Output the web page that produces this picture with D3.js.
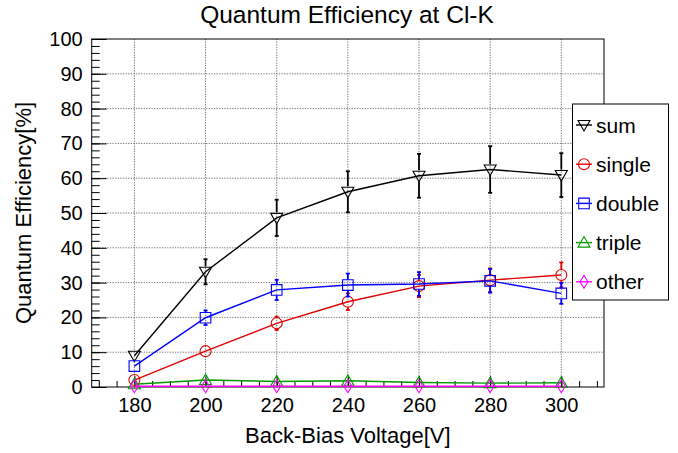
<!DOCTYPE html>
<html>
<head>
<meta charset="UTF-8">
<title>Quantum Efficiency at Cl-K</title>
<script src="https://cdn.jsdelivr.net/npm/d3@7"></script>
<style type="text/css">
	body { margin:0; background:white; }
	text { font-family: "Liberation Sans", Arial, Helvetica, sans-serif; fill:black; }
</style>
</head>
<body>
<script type="text/javascript">

// data
var voltages = [180, 200, 220, 240, 260, 280, 300];
var sumQE     = [9.0, 33.1, 48.6, 56.1, 60.7, 62.5, 60.9];
var sumErr    = [1.2, 3.6, 5.2, 5.9, 6.3, 6.7, 6.3];
var singleQE  = [2.0, 10.3, 18.3, 24.5, 29.0, 30.7, 32.2];
var singleErr = [0.4, 0.9, 1.9, 2.4, 3.2, 3.4, 3.6];
var doubleQE  = [6.0, 19.9, 27.9, 29.3, 29.6, 30.5, 26.9];
var doubleErr = [0.8, 2.1, 2.9, 3.3, 3.4, 3.4, 3.0];
var tripleQE  = [0.8, 2.0, 1.6, 1.8, 1.3, 1.1, 1.2];
var tripleErr = [0.2, 0.4, 0.3, 0.3, 0.3, 0.2, 0.3];
var otherQE   = [0.2, 0.2, 0.2, 0.2, 0.2, 0.2, 0.2];
var otherErr  = [0, 0, 0, 0, 0, 0, 0];
var seriesNames = ['sum', 'single', 'double', 'triple', 'other'];

var large = 678, haut = 453;
var cadreG = 91.7, cadreD = 604, cadreH = 39, cadreB = 387;

var x = d3.scaleLinear().domain([168, 312]).range([cadreG, cadreD]);
var y = d3.scaleLinear().domain([0, 100]).range([cadreB, cadreH]);

var series = [
	{name:seriesNames[0], v:sumQE,    e:sumErr,    col:'#000000', mk:'tdown'},
	{name:seriesNames[1], v:singleQE, e:singleErr, col:'#e00000', mk:'circle'},
	{name:seriesNames[2], v:doubleQE, e:doubleErr, col:'#0000ff', mk:'square'},
	{name:seriesNames[3], v:tripleQE, e:tripleErr, col:'#009900', mk:'tup'},
	{name:seriesNames[4], v:otherQE,  e:otherErr,  col:'#ff00ff', mk:'diamond'}
];

// marker outlines, centred on 0,0
function markerPath(t) {
	if (t == 'tdown') return 'M-6,-4.5L6,-4.5L0,6Z';
	if (t == 'tup') return 'M-6,4.5L6,4.5L0,-6Z';
	if (t == 'square') return 'M-5.3,-5.3H5.3V5.3H-5.3Z';
	if (t == 'diamond') return 'M0,-6.5L4,0L0,6.5L-4,0Z';
	return d3.arc()({innerRadius:0, outerRadius:5.5, startAngle:0, endAngle:2*Math.PI});
}

var svg = d3.select('body').append('svg')
	.attr('width', large)
	.attr('height', haut);

svg.append('rect').attr('width', large).attr('height', haut).attr('fill', 'white');

// grid
var grid = svg.append('g');
grid.selectAll('.gx').data(d3.range(180, 301, 20)).enter().append('line')
	.attr('x1', function(d){ return x(d); }).attr('x2', function(d){ return x(d); })
	.attr('y1', cadreH).attr('y2', cadreB);
grid.selectAll('.gy').data(d3.range(10, 100, 10)).enter().append('line')
	.attr('y1', function(d){ return y(d); }).attr('y2', function(d){ return y(d); })
	.attr('x1', cadreG).attr('x2', cadreD);
grid.selectAll('line')
	.attr('stroke', '#777')
	.attr('stroke-width', 1)
	.attr('stroke-dasharray', '1.3,1.3');

// axes
var yAxis = d3.axisLeft(y).tickValues(d3.range(0, 101, 10)).tickSize(-15).tickSizeOuter(0).tickPadding(9);
var yMinor = d3.axisLeft(y).tickValues(d3.range(0, 101, 2)).tickSize(-8).tickSizeOuter(0).tickFormat('');
var xAxis = d3.axisBottom(x).tickValues(d3.range(180, 301, 20)).tickSize(-11).tickSizeOuter(0).tickPadding(11);
var xMinor = d3.axisBottom(x).tickValues(d3.range(170, 311, 5)).tickSize(-6).tickSizeOuter(0).tickFormat('');

svg.append('g').attr('transform', 'translate(' + cadreG + ',0)').call(yMinor);
svg.append('g').attr('transform', 'translate(' + cadreG + ',0)').call(yAxis);
svg.append('g').attr('transform', 'translate(0,' + cadreB + ')').call(xMinor);
svg.append('g').attr('transform', 'translate(0,' + cadreB + ')').call(xAxis);
svg.selectAll('.domain').remove();
svg.selectAll('.tick line').attr('stroke', '#000').attr('stroke-width', 1);
svg.selectAll('.tick text')
	.style('font-family', '"Liberation Sans", Arial, sans-serif')
	.style('font-size', '20px')
	.attr('fill', '#000');

// frame
svg.append('rect')
	.attr('x', cadreG).attr('y', cadreH)
	.attr('width', cadreD - cadreG).attr('height', cadreB - cadreH)
	.attr('fill', 'none').attr('stroke', '#000').attr('stroke-width', 1);

// series
var line = d3.line()
	.x(function(d){ return x(d[0]); })
	.y(function(d){ return y(d[1]); });

series.forEach(function(s) {
	var pts = voltages.map(function(v, i){ return [v, s.v[i], s.e[i]]; });
	var g = svg.append('g');

	g.append('path')
		.attr('d', line(pts))
		.attr('fill', 'none')
		.attr('stroke', s.col)
		.attr('stroke-width', 1.4);

	// error bars, left open where the marker sits
	pts.forEach(function(p) {
		if (!p[2]) return;
		var cx = x(p[0]), cy = y(p[1]);
		var yt = y(p[1] + p[2]), yb = y(p[1] - p[2]);
		var gap = 5.5;
		if (cy - yt > gap) {
			g.append('line').attr('x1', cx).attr('x2', cx).attr('y1', yt).attr('y2', cy - gap);
			g.append('line').attr('x1', cx - 2).attr('x2', cx + 2).attr('y1', yt).attr('y2', yt);
		}
		if (yb - cy > gap) {
			g.append('line').attr('x1', cx).attr('x2', cx).attr('y1', cy + gap).attr('y2', yb);
			g.append('line').attr('x1', cx - 2).attr('x2', cx + 2).attr('y1', yb).attr('y2', yb);
		}
	});
	g.selectAll('line').attr('stroke', s.col).attr('stroke-width', 1.8);

	g.selectAll('.mk').data(pts).enter().append('path')
		.attr('class', 'mk')
		.attr('d', markerPath(s.mk))
		.attr('transform', function(d){ return 'translate(' + x(d[0]) + ',' + y(d[1]) + ')'; })
		.attr('fill', 'none')
		.attr('stroke', s.col)
		.attr('stroke-width', 1.1);
});

// legend
var leg = svg.append('g');
leg.append('rect')
	.attr('x', 572.5).attr('y', 104)
	.attr('width', 96).attr('height', 196)
	.attr('fill', 'white').attr('stroke', '#000').attr('stroke-width', 1);

var rows = leg.selectAll('.row').data(series).enter().append('g')
	.attr('transform', function(d, i){ return 'translate(584,' + (125 + i * 39.2) + ')'; });
rows.append('line')
	.attr('x1', -8).attr('x2', 8)
	.attr('stroke', function(d){ return d.col; })
	.attr('stroke-width', 1.4);
rows.append('path')
	.attr('d', function(d){ return markerPath(d.mk); })
	.attr('fill', 'none')
	.attr('stroke', function(d){ return d.col; })
	.attr('stroke-width', 1.1);
rows.append('text')
	.attr('x', 12)
	.attr('dy', '0.36em')
	.style('font-size', '21px')
	.text(function(d){ return d.name; });

// titles
svg.append('text')
	.attr('x', 347).attr('y', 23)
	.attr('text-anchor', 'middle')
	.style('font-size', '24.5px')
	.text('Quantum Efficiency at Cl-K');

svg.append('text')
	.attr('x', (cadreG + cadreD) / 2).attr('y', 443)
	.attr('text-anchor', 'middle')
	.style('font-size', '22px')
	.text('Back-Bias Voltage[V]');

svg.append('text')
	.attr('transform', 'translate(31,' + ((cadreH + cadreB) / 2) + ') rotate(-90)')
	.attr('text-anchor', 'middle')
	.style('font-size', '22px')
	.text('Quantum Efficiency[%]');

</script>
</body>
</html>
